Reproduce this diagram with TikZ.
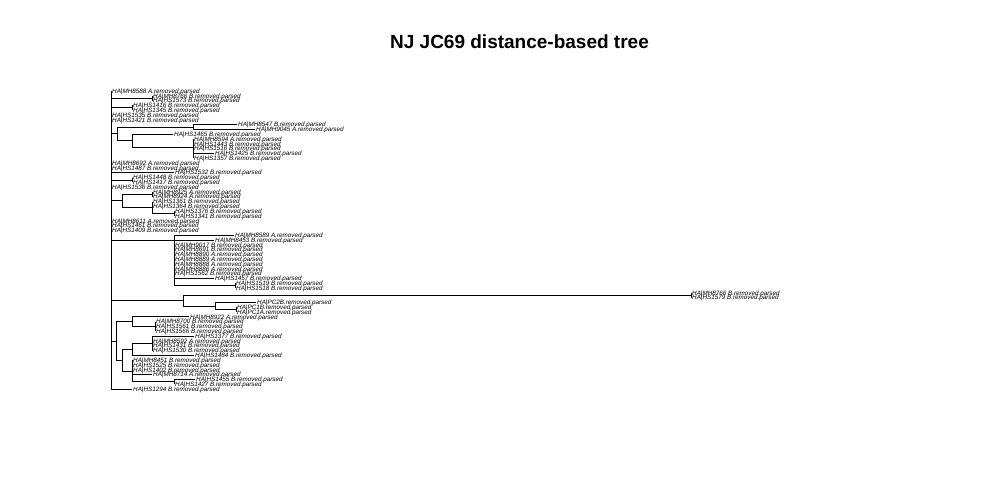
\documentclass[tikz,border=0pt]{standalone}
\usepackage{fontspec}
\setmainfont{Liberation Sans}
\usepackage{tikz}

\tikzset{
  leaf/.style={anchor=west, inner xsep=1pt, inner ysep=0pt, text height=4.5pt, text depth=0pt,
    font=\fontsize{6.3}{6.3}\selectfont\itshape},
  branch/.style={line width=0.8pt},
  elbow/.style={to path={|- (\tikztotarget)}}
}

\begin{document}
\begin{tikzpicture}[x=1pt, y=-1pt]
\useasboundingbox (0,0) rectangle (1000,500);
\node[font=\fontsize{19}{19}\selectfont\bfseries] (title) at (519.5,42) {NJ JC69 distance-based tree};

\begin{scope}[y=-4.806pt, yshift=-86.194pt]
  % inner nodes (x in px, y in tip rows)
  \coordinate (root) at (111,32);
  \coordinate (na) at (152,2.5);
  \coordinate (nb) at (132,4.5);
  \coordinate (nA) at (117,9.9);
  \coordinate (nA1) at (193,8.5);
  \coordinate (nB) at (132,11.35);
  \coordinate (nC) at (193,12.7);
  \coordinate (nc) at (132,19.5);
  \coordinate (nD) at (122,23.85);
  \coordinate (nE) at (152,22.5);
  \coordinate (nF) at (152,25.2);
  \coordinate (nG) at (174,26.5);
  \coordinate (nH) at (174,32);
  \coordinate (nI) at (235,41.5);
  \coordinate (nP) at (183,44.6);
  \coordinate (nQ) at (691,43.5);
  \coordinate (nR) at (215,45.75);
  \coordinate (nS) at (236,46.5);
  \coordinate (nBot) at (116,53);
  \coordinate (nT) at (132,49);
  \coordinate (nU) at (155,50);
  \coordinate (nV) at (122,57);
  \coordinate (nW) at (132,54.75);
  \coordinate (nW2) at (152,53.5);
  \coordinate (nX) at (132,59.25);
  \coordinate (nY) at (174,61.5);

  % tips
  \node[leaf] (l1) at (111,1) {HA|MH8588 A.removed.parsed};
  \node[leaf] (l2) at (152,2) {HA|MH8766 B.removed.parsed};
  \node[leaf] (l3) at (152,3) {HA|HS1573 B.removed.parsed};
  \node[leaf] (l4) at (132,4) {HA|HS1416 B.removed.parsed};
  \node[leaf] (l5) at (132,5) {HA|HS1345 B.removed.parsed};
  \node[leaf] (l6) at (111,6) {HA|HS1535 B.removed.parsed};
  \node[leaf] (l7) at (111,7) {HA|HS1421 B.removed.parsed};
  \node[leaf] (l8) at (237,8) {HA|MH8547 B.removed.parsed};
  \node[leaf] (l9) at (255,9) {HA|MH9045 A.removed.parsed};
  \node[leaf] (l10) at (173,10) {HA|HS1465 B.removed.parsed};
  \node[leaf] (l11) at (193,11) {HA|MH8594 A.removed.parsed};
  \node[leaf] (l12) at (193,12) {HA|HS1443 B.removed.parsed};
  \node[leaf] (l13) at (193,13) {HA|HS1516 B.removed.parsed};
  \node[leaf] (l14) at (214,14) {HA|HS1425 B.removed.parsed};
  \node[leaf] (l15) at (193,15) {HA|HS1357 B.removed.parsed};
  \node[leaf] (l16) at (111,16) {HA|MH8692 A.removed.parsed};
  \node[leaf] (l17) at (111,17) {HA|HS1487 B.removed.parsed};
  \node[leaf] (l18) at (174,18) {HA|HS1532 B.removed.parsed};
  \node[leaf] (l19) at (132,19) {HA|HS1448 B.removed.parsed};
  \node[leaf] (l20) at (132,20) {HA|HS1417 B.removed.parsed};
  \node[leaf] (l21) at (111,21) {HA|HS1536 B.removed.parsed};
  \node[leaf] (l22) at (152,22) {HA|MH8925 A.removed.parsed};
  \node[leaf] (l23) at (152,23) {HA|MH8924 A.removed.parsed};
  \node[leaf] (l24) at (152,24) {HA|HS1361 B.removed.parsed};
  \node[leaf] (l25) at (152,25) {HA|HS1364 B.removed.parsed};
  \node[leaf] (l26) at (174,26) {HA|HS1376 B.removed.parsed};
  \node[leaf] (l27) at (174,27) {HA|HS1341 B.removed.parsed};
  \node[leaf] (l28) at (111,28) {HA|MH8611 A.removed.parsed};
  \node[leaf] (l29) at (111,29) {HA|HS1461 B.removed.parsed};
  \node[leaf] (l30) at (111,30) {HA|HS1409 B.removed.parsed};
  \node[leaf] (l31) at (234,31) {HA|MH8589 A.removed.parsed};
  \node[leaf] (l32) at (214,32) {HA|MH8453 B.removed.parsed};
  \node[leaf] (l33) at (174,33) {HA|MH9017 B.removed.parsed};
  \node[leaf] (l34) at (174,34) {HA|MH8691 B.removed.parsed};
  \node[leaf] (l35) at (174,35) {HA|MH8890 A.removed.parsed};
  \node[leaf] (l36) at (174,36) {HA|MH8889 A.removed.parsed};
  \node[leaf] (l37) at (174,37) {HA|MH8888 A.removed.parsed};
  \node[leaf] (l38) at (174,38) {HA|MH8886 A.removed.parsed};
  \node[leaf] (l39) at (174,39) {HA|HS1562 B.removed.parsed};
  \node[leaf] (l40) at (214,40) {HA|HS1457 B.removed.parsed};
  \node[leaf] (l41) at (235,41) {HA|HS1519 B.removed.parsed};
  \node[leaf] (l42) at (235,42) {HA|HS1518 B.removed.parsed};
  \node[leaf] (l43) at (691,43) {HA|MH8766 B.removed.parsed};
  \node[leaf] (l44) at (691,44) {HA|HS1579 B.removed.parsed};
  \node[leaf] (l45) at (256,45) {HA|PC2B.removed.parsed};
  \node[leaf] (l46) at (236,46) {HA|PC1B.removed.parsed};
  \node[leaf] (l47) at (236,47) {HA|PC1A.removed.parsed};
  \node[leaf] (l48) at (189,48) {HA|MH8922 A.removed.parsed};
  \node[leaf] (l49) at (155,49) {HA|MH8700 B.removed.parsed};
  \node[leaf] (l50) at (155,50) {HA|HS1561 B.removed.parsed};
  \node[leaf] (l51) at (155,51) {HA|HS1566 B.removed.parsed};
  \node[leaf] (l52) at (194,52) {HA|HS1377 B.removed.parsed};
  \node[leaf] (l53) at (152,53) {HA|MH8592 A.removed.parsed};
  \node[leaf] (l54) at (152,54) {HA|HS1431 B.removed.parsed};
  \node[leaf] (l55) at (152,55) {HA|HS1530 B.removed.parsed};
  \node[leaf] (l56) at (194,56) {HA|HS1484 B.removed.parsed};
  \node[leaf] (l57) at (132,57) {HA|MH8451 B.removed.parsed};
  \node[leaf] (l58) at (132,58) {HA|HS1525 B.removed.parsed};
  \node[leaf] (l59) at (132,59) {HA|HS1402 B.removed.parsed};
  \node[leaf] (l60) at (152,60) {HA|MH8714 A.removed.parsed};
  \node[leaf] (l61) at (195,61) {HA|HS1455 B.removed.parsed};
  \node[leaf] (l62) at (174,62) {HA|HS1427 B.removed.parsed};
  \node[leaf] (l63) at (132,63) {HA|HS1294 B.removed.parsed};

  \path[branch]
  (root) edge[elbow] (l1.west) edge[elbow] (na) edge[elbow] (nb) edge[elbow] (l6.west) edge[elbow] (l7.west) edge[elbow] (nA)
  (root) edge[elbow] (l16.west) edge[elbow] (l17.west) edge[elbow] (l18.west) edge[elbow] (nc) edge[elbow] (l21.west) edge[elbow] (nD)
  (root) edge[elbow] (l28.west) edge[elbow] (l29.west) edge[elbow] (l30.west) edge[elbow] (nH) edge[elbow] (nP) edge[elbow] (nBot) edge[elbow] (l63.west)
  (na) edge[elbow] (l2.west) edge[elbow] (l3.west)
  (nb) edge[elbow] (l4.west) edge[elbow] (l5.west)
  (nA) edge[elbow] (nA1) edge[elbow] (nB)
  (nA1) edge[elbow] (l8.west) edge[elbow] (l9.west)
  (nB) edge[elbow] (l10.west) edge[elbow] (nC)
  (nC) edge[elbow] (l11.west) edge[elbow] (l12.west) edge[elbow] (l13.west) edge[elbow] (l14.west) edge[elbow] (l15.west)
  (nc) edge[elbow] (l19.west) edge[elbow] (l20.west)
  (nD) edge[elbow] (nE) edge[elbow] (nF)
  (nE) edge[elbow] (l22.west) edge[elbow] (l23.west)
  (nF) edge[elbow] (l24.west) edge[elbow] (l25.west) edge[elbow] (nG)
  (nG) edge[elbow] (l26.west) edge[elbow] (l27.west)
  (nH) edge[elbow] (l31.west) edge[elbow] (l32.west) edge[elbow] (l40.west) edge[elbow] (nI)
  (nI) edge[elbow] (l41.west) edge[elbow] (l42.west)
  (nP) edge[elbow] (nQ) edge[elbow] (nR)
  (nQ) edge[elbow] (l43.west) edge[elbow] (l44.west)
  (nR) edge[elbow] (l45.west) edge[elbow] (nS)
  (nS) edge[elbow] (l46.west) edge[elbow] (l47.west)
  (nBot) edge[elbow] (nT) edge[elbow] (nV)
  (nT) edge[elbow] (l48.west) edge[elbow] (nU)
  (nU) edge[elbow] (l49.west) edge[elbow] (l50.west) edge[elbow] (l51.west)
  (nV) edge[elbow] (nW) edge[elbow] (nX)
  (nW) edge[elbow] (nW2) edge[elbow] (l56.west)
  (nW2) edge[elbow] (l52.west) edge[elbow] (l53.west) edge[elbow] (l54.west) edge[elbow] (l55.west)
  (nX) edge[elbow] (l57.west) edge[elbow] (l58.west) edge[elbow] (l59.west) edge[elbow] (l60.west) edge[elbow] (nY)
  (nY) edge[elbow] (l61.west) edge[elbow] (l62.west);
  \foreach \i in {33,...,39} \draw[branch] (nH) |- (l\i.west);
\end{scope}
\end{tikzpicture}
\end{document}
